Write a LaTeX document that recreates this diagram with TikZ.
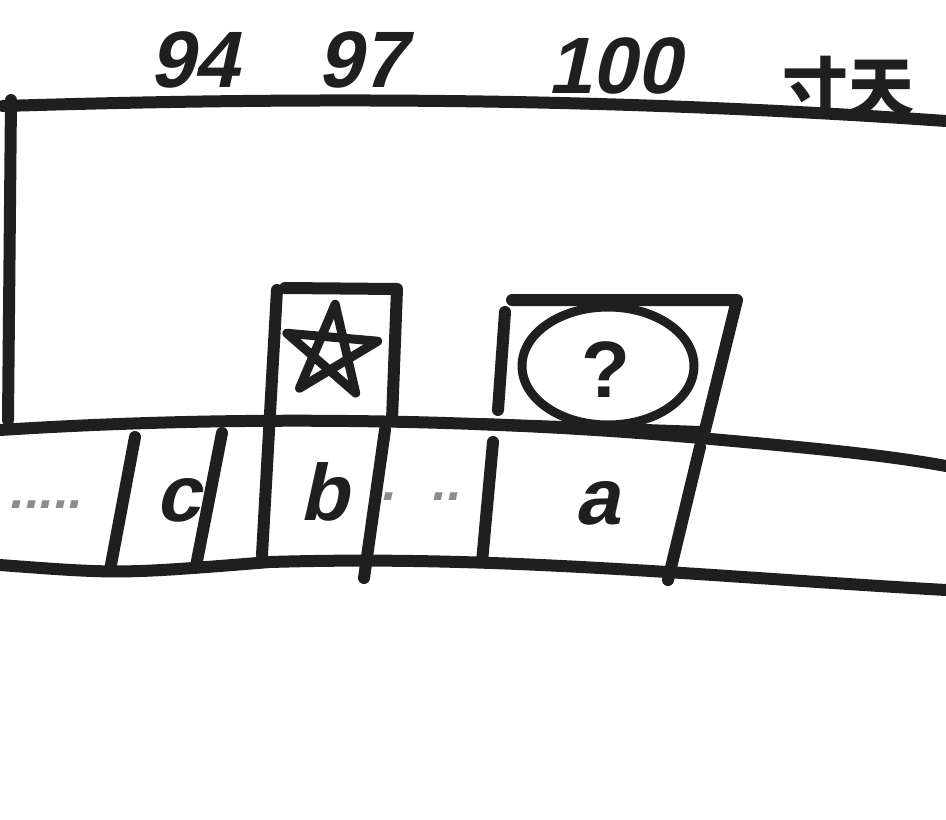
\documentclass[tikz,border=0pt]{standalone}
\usepackage{fontspec}
\setmainfont{Liberation Sans}
\newfontfamily\cjk{Noto Sans CJK SC}
\newfontfamily\hand[FakeSlant=0.22]{Liberation Sans}
\usetikzlibrary{calc,shapes.geometric}
\begin{document}
\begin{tikzpicture}[x=1pt,y=-1pt,line cap=round,line join=round,
  ink/.style={line width=12pt,color=black!88},
  inkthin/.style={line width=9pt,color=black!88},
  lbl/.style={font=\hand\bfseries\fontsize{80}{80}\selectfont,color=black!88,inner sep=0pt},
  cjklbl/.style={font=\cjk\bfseries\fontsize{66}{66}\selectfont,color=black!88,inner sep=0pt},
  dots/.style={font=\hand\bfseries\fontsize{52}{52}\selectfont,color=black!45,inner sep=0pt}]
\fill[white] (0,0) rectangle (946,820);
\useasboundingbox (0,0) rectangle (946,820);

% frame lines
\coordinate (t0) at (3,106);
\coordinate (t1) at (946,121);
\draw[ink] (t0) .. controls (300,97) and (600,97) .. (t1);
\coordinate (l0) at (11,100);
\coordinate (l1) at (8,420);
\draw[ink] (l0) -- (l1);

% tape
\coordinate (m0) at (0,430);
\coordinate (m1) at (700,438);
\coordinate (m2) at (946,466);
\draw[ink] (m0) .. controls (250,414) and (500,420) .. (m1) .. controls (800,447) and (880,454) .. (m2);
\coordinate (b0) at (0,565);
\coordinate (b1) at (270,562);
\coordinate (b2) at (946,590);
\draw[ink] (b0) .. controls (120,574) .. (b1) .. controls (500,555) and (700,576) .. (b2);

% dividers
\foreach \n/\xa/\ya/\xb/\yb in {d1/135/437/110/570, d2/222/433/196/566, d3/277/290/262/555,
   d4/385/430/364/578, d5/493/442/482/562, d6/700/447/668/580}{
  \coordinate (\n a) at (\xa,\ya);
  \coordinate (\n b) at (\xb,\yb);
  \draw[ink] (\n a) -- (\n b);
}

% star box
\coordinate (s1) at (285,288);
\coordinate (s2) at (397,289);
\coordinate (s3) at (392,420);
\draw[ink] (s1) -- (s2) -- (s3);
\coordinate (sc) at (331,352);
\draw[inkthin] ($(sc)+(-85:48)$) coordinate (p0) -- ($(sc)+(59:48)$) -- ($(sc)+(203:48)$) -- ($(sc)+(-13:48)$) -- ($(sc)+(131:48)$) -- cycle;

% question box
\coordinate (q0) at (505,312);
\coordinate (q1) at (498,410);
\draw[ink] (q0) -- (q1);
\coordinate (q2) at (512,300);
\coordinate (q3) at (737,300);
\coordinate (q4) at (705,430);
\draw[ink] (q2) -- (q3) -- (q4);
\coordinate (qb0) at (480,424);
\coordinate (qb1) at (700,432);
\draw[ink] (qb0) -- (qb1);
\node[draw,ellipse,line width=9pt,color=black!88,minimum width=172pt,minimum height=118pt,inner sep=0pt] (oval) at (608,366) {};
\node[font=\bfseries\fontsize{80}{80}\selectfont,color=black!88,inner sep=0pt] (qm) at (606,370) {?};

% labels
\node[lbl] (n94) at (194,60) {94};
\node[lbl] (n97) at (362,60) {97};
\node[lbl] (n100) at (614,66) {100};
\node[cjklbl] (ncjk) at (848,88) {寸天};
\node[lbl] (lc) at (178,500) {c};
\node[lbl] (lb) at (324,492) {b};
\node[lbl] (la) at (597,503) {a};
\node[dots] (dl) at (45,505) {.....};
\node[dots] (dm) at (420,497) {.\hspace{36pt}..};
\end{tikzpicture}
\end{document}
